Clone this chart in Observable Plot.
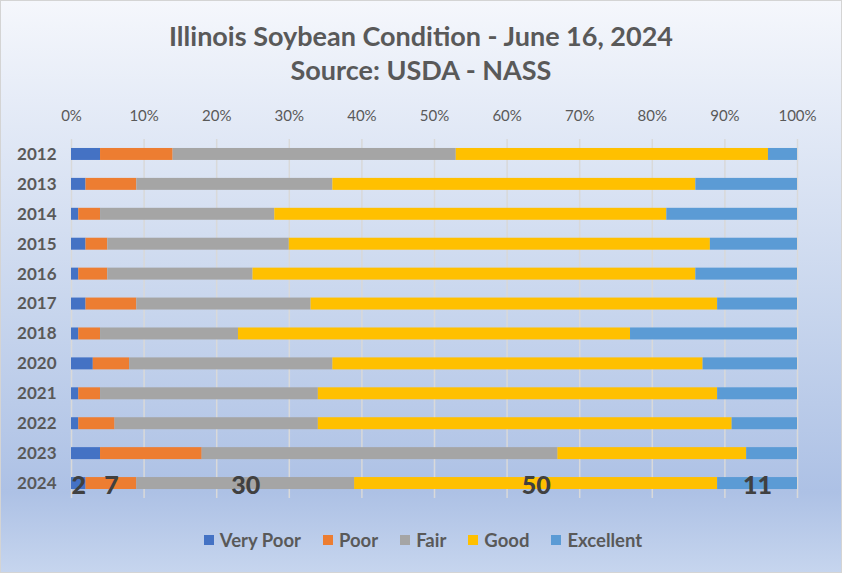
<!DOCTYPE html>
<html>
<head>
<meta charset="utf-8">
<script src="https://cdn.jsdelivr.net/npm/d3@7"></script>
<script src="https://cdn.jsdelivr.net/npm/@observablehq/plot@0.6"></script>
<style>
  html, body { margin: 0; padding: 0; }
  #chart {
    width: 842px; height: 573px; box-sizing: border-box; overflow: hidden;
    border: 1px solid #d4d4d4;
    background: linear-gradient(to bottom, #f5f7fc 0%, #e2e9f6 22%, #c7d5ed 55%, #adc1e5 86%, #c6d5ee 100%);
    font-family: Lato, "Open Sans", sans-serif;
  }
  #title {
    height: 89px; box-sizing: border-box; padding-top: 18px;
    text-align: center; color: #595959; font-size: 27px; font-weight: bold; line-height: 34px;
  }
  #legend {
    height: 58px; display: flex; justify-content: center; align-items: center;
    color: #595959; font-size: 18.5px; font-weight: bold; gap: 22px; padding-left: 4px;
  }
  .item { display: flex; align-items: center; }
  .sw { width: 10px; height: 10px; margin-right: 6px; }
  svg { display: block; background: transparent !important; }
</style>
</head>
<body>
<div id="chart">
  <div id="title">Illinois Soybean Condition - June 16, 2024<br>Source: USDA - NASS</div>
  <div id="plot"></div>
  <div id="legend"></div>
</div>
<script>
const years = ["2012","2013","2014","2015","2016","2017","2018","2020","2021","2022","2023","2024"];
const conditions = ["Very Poor","Poor","Fair","Good","Excellent"];
const veryPoor  = [4, 2, 1, 2, 1, 2, 1, 3, 1, 1, 4, 2];
const poor      = [10, 7, 3, 3, 4, 7, 3, 5, 3, 5, 14, 7];
const fair      = [39, 27, 24, 25, 20, 24, 19, 28, 30, 28, 49, 30];
const good      = [43, 50, 54, 58, 61, 56, 54, 51, 55, 57, 26, 50];
const excellent = [4, 14, 18, 12, 14, 11, 23, 13, 11, 9, 7, 11];
const colors = ["#4472C4", "#ED7D31", "#A5A5A5", "#FFC000", "#5B9BD5"];
const xTicks = [0, 10, 20, 30, 40, 50, 60, 70, 80, 90, 100];
const labelledYear = "2024";

const series = [veryPoor, poor, fair, good, excellent];
const data = [];
years.forEach((y, i) => {
  conditions.forEach((c, j) => data.push({year: y, cond: c, value: series[j][i]}));
});

const plot = Plot.plot({
  width: 840, height: 421,
  marginLeft: 70, marginRight: 44, marginTop: 49, marginBottom: 13,
  style: {background: "transparent", fontFamily: "Lato, 'Open Sans', sans-serif"},
  x: {domain: [0, 100], label: null},
  y: {domain: years, paddingInner: 0.6, paddingOuter: 0.3, round: false, label: null},
  color: {domain: conditions, range: colors},
  marks: [
    Plot.gridX(xTicks, {stroke: "#d9d9d9", strokeOpacity: 1, strokeWidth: 1.5}),
    Plot.axisX({anchor: "top", ticks: xTicks, tickSize: 0, tickPadding: 19,
      tickFormat: d => d + "%", fontSize: 15, fill: "#595959", label: null}),
    Plot.axisY({tickSize: 0, tickPadding: 15, fontSize: 17, fontWeight: "bold", fill: "#595959", label: null}),
    Plot.barX(data, Plot.stackX({y: "year", x: "value", fill: "cond"})),
    Plot.text(data, Plot.stackX({
      filter: d => d.year === labelledYear,
      y: "year", x: "value", text: "value",
      fontSize: 25, fontWeight: 900, fill: "#404040", dy: 2
    }))
  ]
});
document.getElementById("plot").appendChild(plot);

const legend = document.getElementById("legend");
conditions.forEach((c, i) => {
  const it = document.createElement("div");
  it.className = "item";
  const sw = document.createElement("div");
  sw.className = "sw";
  sw.style.background = colors[i];
  const t = document.createElement("span");
  t.textContent = c;
  it.appendChild(sw); it.appendChild(t);
  legend.appendChild(it);
});
</script>
</body>
</html>
